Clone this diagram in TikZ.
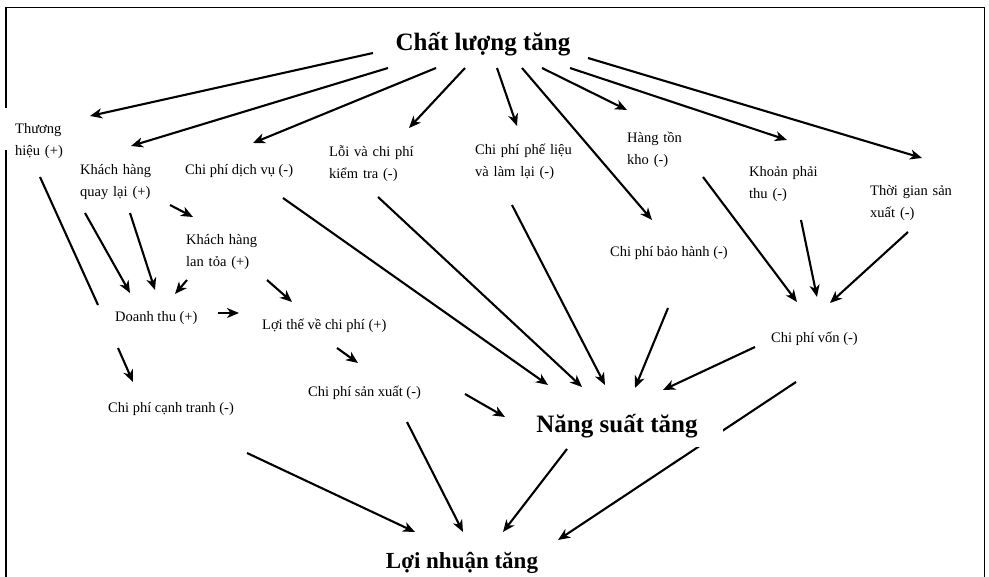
\documentclass[tikz,border=0pt]{standalone}
\usepackage{fontspec}
\setmainfont{Liberation Serif}
\usetikzlibrary{arrows.meta,backgrounds}
\tikzset{
  lbl/.style={font=\fontsize{14.5}{22}\selectfont, inner sep=0pt, anchor=base west},
  mlbl/.style={lbl, text width=#1, align=left},
  big/.style={font=\fontsize{25}{30}\selectfont\bfseries, inner sep=0pt, anchor=base},
  arr/.style={line width=2.1pt, -{Stealth[length=12pt,width=10pt,inset=3.5pt]}},
  plainline/.style={line width=2.1pt},
  boxline/.style={line width=1.3pt}
}
\begin{document}
\begin{tikzpicture}[x=1pt,y=-1pt]
\useasboundingbox (0,0) rectangle (989,577);
% nodes
\node[big] (cl) at (483,51) {Chất lượng tăng};
\node[mlbl=60pt] (thuong) at (15,134) {Thương\\hiệu (+)};
\node[mlbl=80pt] (khq) at (80,175) {\makebox[74pt][s]{Khách hàng}\\quay lại (+)};
\node[lbl] (dv) at (185,175) {Chi phí dịch vụ (-)};
\node[mlbl=110pt] (loi) at (329,157) {\makebox[107pt][s]{Lỗi và chi phí}\\kiểm tra (-)};
\node[mlbl=110pt] (pl) at (475,155) {Chi phí phế liệu\\và làm lại (-)};
\node[mlbl=70pt] (hton) at (627,143) {\makebox[66pt][s]{Hàng tồn}\\kho (-)};
\node[mlbl=82pt] (kpt) at (749,177) {\makebox[80pt][s]{Khoản phải}\\thu (-)};
\node[mlbl=95pt] (tg) at (870,196) {\makebox[92pt][s]{Thời gian sản}\\xuất (-)};
\node[mlbl=95pt] (lt) at (186,245) {\makebox[90pt][s]{Khách hàng}\\lan tỏa (+)};
\node[lbl] (bh) at (610,257) {Chi phí bảo hành (-)};
\node[lbl] (dt) at (115,322) {Doanh thu (+)};
\node[lbl] (ltcp) at (262,330) {Lợi thế về chi phí (+)};
\node[lbl] (von) at (771,343) {Chi phí vốn (-)};
\node[lbl] (cpsx) at (308,397) {Chi phí sản xuất (-)};
\node[lbl] (ct) at (108,413) {Chi phí cạnh tranh (-)};
\node[big, fill=white, inner xsep=25pt, inner ysep=8pt] (ns) at (617,433) {Năng suất tăng};
\node[big, font=\fontsize{23}{28}\selectfont\bfseries] (ln) at (462,568) {Lợi nhuận tăng};
\begin{scope}[on background layer]
% frame
\draw[boxline] (6,108) -- (6,7.5) -- (984.5,7.5) -- (984.5,577);
\draw[boxline] (6,150) -- (6,577);
% from Chat luong tang
\draw[arr] ([shift={(-110,2)}]cl.base) -- ([shift={(75,-18)}]thuong.base west);
\draw[arr] ([shift={(-95,17)}]cl.base) -- ([shift={(51,-29)}]khq.base west);
\draw[arr] ([shift={(-47,17)}]cl.base) -- ([shift={(68,-32)}]dv.base west);
\draw[arr] ([shift={(-18,17)}]cl.base) -- ([shift={(80,-29)}]loi.base west);
\draw[arr] ([shift={(14,17)}]cl.base) -- ([shift={(42,-29)}]pl.base west);
\draw[arr] ([shift={(39,17)}]cl.base) -- ([shift={(42,-37)}]bh.base west);
\draw[arr] ([shift={(59,17)}]cl.base) -- ([shift={(0,-33)}]hton.base west);
\draw[arr] ([shift={(87,17)}]cl.base) -- ([shift={(38,-37)}]kpt.base west);
\draw[arr] ([shift={(105,7)}]cl.base) -- ([shift={(52,-38)}]tg.base west);
% left part
\draw[plainline] ([shift={(25,43)}]thuong.base west) -- ([shift={(-17,-17)}]dt.base west);
\draw[arr] ([shift={(5,38)}]khq.base west) -- ([shift={(15,-29)}]dt.base west);
\draw[arr] ([shift={(50,38)}]khq.base west) -- ([shift={(40,-32)}]dt.base west);
\draw[arr] ([shift={(90,30)}]khq.base west) -- ([shift={(7,-28)}]lt.base west);
\draw[arr] ([shift={(1,35)}]lt.base west) -- ([shift={(60,-28)}]dt.base west);
\draw[arr] ([shift={(81,35)}]lt.base west) -- ([shift={(30,-28)}]ltcp.base west);
\draw[arr] ([shift={(103,-9)}]dt.base west) -- ([shift={(-23,-17)}]ltcp.base west);
\draw[arr] ([shift={(3,26)}]dt.base west) -- ([shift={(25,-31)}]ct.base west);
\draw[arr] ([shift={(75,18)}]ltcp.base west) -- ([shift={(50,-34)}]cpsx.base west);
% into Nang suat tang
\draw[arr] ([shift={(98,23)}]dv.base west) -- ([shift={(-69,-48)}]ns.base);
\draw[arr] ([shift={(49,40)}]loi.base west) -- ([shift={(-35,-46)}]ns.base);
\draw[arr] ([shift={(37,50)}]pl.base west) -- ([shift={(-12,-48)}]ns.base);
\draw[arr] ([shift={(58,51)}]bh.base west) -- ([shift={(18,-45)}]ns.base);
\draw[arr] ([shift={(-16,4)}]von.base west) -- ([shift={(46,-43)}]ns.base);
\draw[arr] ([shift={(157,-3)}]cpsx.base west) -- ([shift={(-112,-16)}]ns.base);
% into Chi phi von
\draw[arr] ([shift={(76,34)}]hton.base west) -- ([shift={(26,-41)}]von.base west);
\draw[arr] ([shift={(52,43)}]kpt.base west) -- ([shift={(46,-46)}]von.base west);
\draw[arr] ([shift={(38,36)}]tg.base west) -- ([shift={(59,-40)}]von.base west);
% into Loi nhuan tang
\draw[arr] ([shift={(139,40)}]ct.base west) -- ([shift={(-47,-36)}]ln.base);
\draw[arr] ([shift={(99,25)}]cpsx.base west) -- ([shift={(1,-36)}]ln.base);
\draw[arr] ([shift={(-50,16)}]ns.base) -- ([shift={(41,-36)}]ln.base);
\draw[arr] ([shift={(25,39)}]von.base west) -- ([shift={(96,-28)}]ln.base);
\end{scope}
\end{tikzpicture}
\end{document}
